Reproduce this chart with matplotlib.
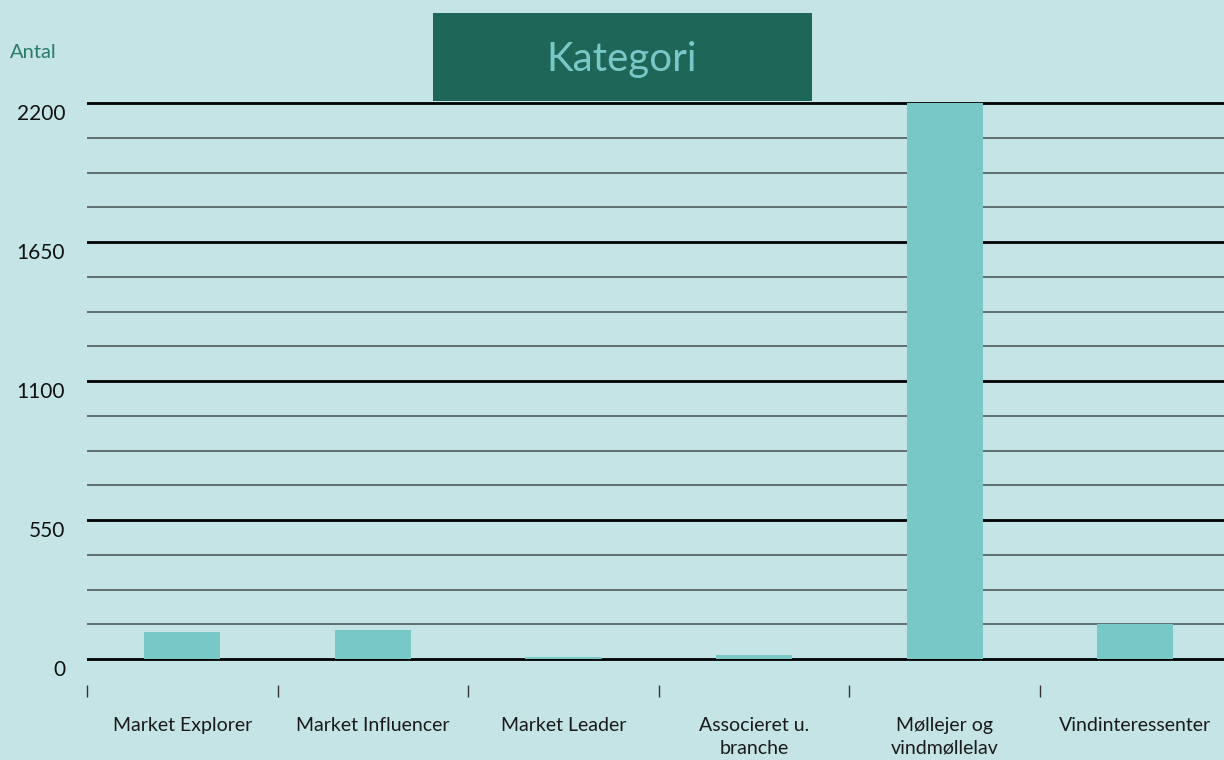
import matplotlib
matplotlib.use("Agg")
import matplotlib.pyplot as plt
from matplotlib.patches import Rectangle
from matplotlib.transforms import ScaledTranslation
import numpy as np

categories = ["Market Explorer", "Market Influencer", "Market Leader",
              "Associeret u.\nbranche", "Møllejer og\nvindmøllelav", "Vindinteressenter"]
values = [108, 115, 8, 15, 2200, 140]
yticks = [0, 550, 1100, 1650, 2200]
title = "Kategori"
ylabel = "Antal"

BG = "#c5e4e5"
BAR = "#78c8c8"
DARK = "#1e6658"
plt.rcParams['font.family'] = ['Lato', 'DejaVu Sans']

W, H = 1224, 760
fig = plt.figure(figsize=(W / 100, H / 100), dpi=100, facecolor=BG)

# axes geometry in pixels
left_px, slot = 87, 190.6
x_right = left_px + 6 * slot
ylo, yhi = -20, 2220
ppu = (659 - 103) / 2200.0
bottom_px = 659 + 20 * ppu
top_px = 103 - 20 * ppu
ax = fig.add_axes([left_px / W, (H - bottom_px) / H, (x_right - left_px) / W, (bottom_px - top_px) / H])
ax.patch.set_visible(False)

x = np.arange(len(categories))
ax.set_xlim(-0.5, 5.5)
ax.set_ylim(ylo, yhi)

# grid
for v in np.arange(0, 2200.1, 137.5):
    major = abs(v / 550 - round(v / 550)) < 1e-9
    ax.axhline(v, color="#000000" if major else "#455050",
               lw=2.0 if major else 1.1, zorder=1)

ax.bar(x, values, width=0.4, color=BAR, zorder=2)

for s in ["top", "right", "left"]:
    ax.spines[s].set_visible(False)
ax.spines["bottom"].set_position(("outward", (685 - bottom_px) * 0.72))
ax.spines["bottom"].set_visible(False)

ax.set_xticks(x)
ax.set_xticklabels(categories, fontsize=14, color="#1a1a1a", linespacing=1.4)
ax.set_xticks(np.arange(-0.5, 5.51, 1), minor=True)
ax.tick_params(axis="x", which="major", length=0, pad=23)
ax.tick_params(axis="x", which="minor", length=12 * 0.72, width=1.0, color="#333333", direction="out")

ax.set_yticks(yticks)
ax.set_yticklabels([str(t) for t in yticks], fontsize=15, color="#111111")
ax.tick_params(axis="y", length=0, pad=(left_px - 65) * 0.72)
off = ScaledTranslation(0, -9 / 100, fig.dpi_scale_trans)
for lab in ax.get_yticklabels():
    lab.set_transform(lab.get_transform() + off)

# title box
fig.patches.append(Rectangle((433 / W, (H - 101) / H), (812 - 433) / W, (101 - 13) / H,
                             transform=fig.transFigure, facecolor=DARK, edgecolor="none", zorder=3))
fig.text(622 / W, (H - 60) / H, title, ha="center", va="center", fontsize=29, color="#79c8c8", zorder=4)

fig.text(10 / W, (H - 53) / H, ylabel, ha="left", va="center", fontsize=14.5, color="#2b7a6a")

fig.savefig("out.png", dpi=100, facecolor=BG)
